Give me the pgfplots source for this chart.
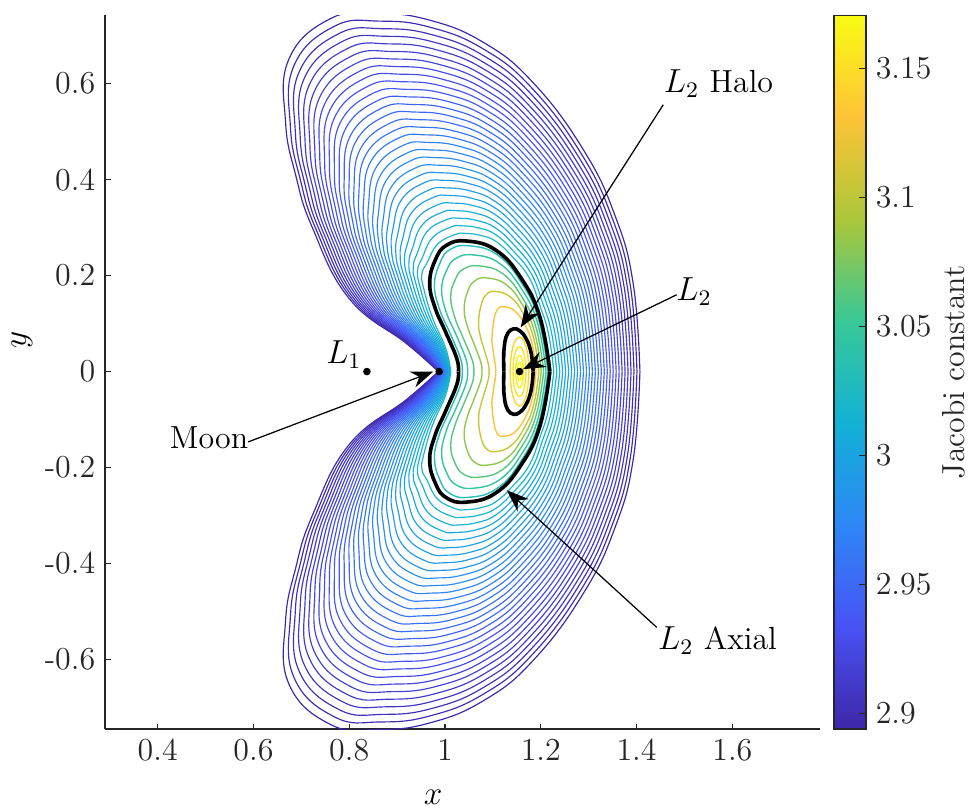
\documentclass[border=0pt]{standalone}
\usepackage{pgfplots}
\usepackage{pgfplotstable}
\pgfplotsset{compat=1.18}
\usetikzlibrary{arrows.meta}
\definecolor{p0}{rgb}{0.2422,0.1504,0.6603}
\definecolor{p1}{rgb}{0.2810,0.3228,0.9579}
\definecolor{p2}{rgb}{0.1786,0.5289,0.9682}
\definecolor{p3}{rgb}{0.0689,0.6948,0.8394}
\definecolor{p4}{rgb}{0.2161,0.7843,0.5923}
\definecolor{p5}{rgb}{0.6720,0.7793,0.2227}
\definecolor{p6}{rgb}{0.9970,0.7659,0.2199}
\definecolor{p7}{rgb}{0.9769,0.9839,0.0805}
\pgfplotsset{colormap={parula}{rgb=(0.2422,0.1504,0.6603) rgb=(0.2810,0.3228,0.9579) rgb=(0.1786,0.5289,0.9682) rgb=(0.0689,0.6948,0.8394) rgb=(0.2161,0.7843,0.5923) rgb=(0.6720,0.7793,0.2227) rgb=(0.9970,0.7659,0.2199) rgb=(0.9769,0.9839,0.0805)}}
\pgfplotsset{
  oc/.style={smooth, tension=0.75, line width=0.42pt, draw={#1}},
  icol/.style={smooth, tension=0.75, line width=0.5pt, draw={#1}},
  thick contour/.style={smooth, tension=0.75, line width=1.3pt, black},
}
\tikzset{arr/.style={line width=0.45pt, black, -{Stealth[length=8pt,width=6pt,inset=2.6pt]}}}

% upper halves of the outer contour family (rows: points along each curve; column pairs: contours)
\pgfplotstableread{
x0 y0 x1 y1 x2 y2 x3 y3 x4 y4 x5 y5 x6 y6 x7 y7 x8 y8 x9 y9 x10 y10 x11 y11 x12 y12 x13 y13 x14 y14 x15 y15 x16 y16 x17 y17 x18 y18 x19 y19 x20 y20 x21 y21 x22 y22 x23 y23 x24 y24 x25 y25 x26 y26 x27 y27 x28 y28 x29 y29
0.9860 0 0.9869 0 0.9878 0 0.9887 0 0.9896 0 0.9905 0 0.9914 0 0.9923 0 0.9932 0 0.9941 0 0.9950 0 0.9959 0 0.9968 0 0.9977 0 0.9986 0 0.9995 0 1.0004 0 1.0013 0 1.0022 0 1.0031 0 1.0040 0 1.0049 0 1.0058 0 1.0067 0 1.0076 0 1.0085 0 1.0094 0 1.0103 0 1.0112 0 1.0121 0
0.9200 0.0580 0.9228 0.0577 0.9256 0.0574 0.9284 0.0571 0.9312 0.0568 0.9340 0.0565 0.9368 0.0562 0.9396 0.0559 0.9424 0.0556 0.9452 0.0553 0.9480 0.0550 0.9508 0.0547 0.9536 0.0544 0.9564 0.0541 0.9592 0.0538 0.9620 0.0535 0.9648 0.0532 0.9676 0.0529 0.9704 0.0526 0.9732 0.0523 0.9760 0.0520 0.9788 0.0517 0.9816 0.0514 0.9844 0.0511 0.9872 0.0508 0.9900 0.0505 0.9928 0.0502 0.9956 0.0499 0.9984 0.0496 1.0012 0.0493
0.8000 0.1520 0.8060 0.1506 0.8120 0.1492 0.8180 0.1478 0.8240 0.1464 0.8300 0.1450 0.8360 0.1436 0.8420 0.1422 0.8480 0.1408 0.8540 0.1394 0.8600 0.1380 0.8660 0.1366 0.8720 0.1352 0.8780 0.1338 0.8840 0.1324 0.8900 0.1310 0.8960 0.1296 0.9020 0.1282 0.9080 0.1268 0.9140 0.1254 0.9200 0.1240 0.9260 0.1226 0.9320 0.1212 0.9380 0.1198 0.9440 0.1184 0.9500 0.1170 0.9560 0.1156 0.9620 0.1142 0.9680 0.1128 0.9740 0.1114
0.7230 0.3000 0.7310 0.2957 0.7390 0.2914 0.7470 0.2871 0.7550 0.2828 0.7630 0.2785 0.7710 0.2742 0.7790 0.2699 0.7870 0.2656 0.7950 0.2613 0.8030 0.2570 0.8110 0.2527 0.8190 0.2484 0.8270 0.2441 0.8350 0.2398 0.8430 0.2355 0.8510 0.2312 0.8590 0.2269 0.8670 0.2226 0.8750 0.2183 0.8830 0.2140 0.8910 0.2097 0.8990 0.2054 0.9070 0.2011 0.9150 0.1968 0.9230 0.1925 0.9310 0.1882 0.9390 0.1839 0.9470 0.1796 0.9550 0.1753
0.6880 0.4100 0.6971 0.4029 0.7062 0.3958 0.7153 0.3887 0.7244 0.3816 0.7335 0.3745 0.7426 0.3674 0.7517 0.3603 0.7608 0.3532 0.7699 0.3461 0.7790 0.3390 0.7881 0.3319 0.7972 0.3248 0.8063 0.3177 0.8154 0.3106 0.8245 0.3035 0.8336 0.2964 0.8427 0.2893 0.8518 0.2822 0.8609 0.2751 0.8700 0.2680 0.8791 0.2609 0.8882 0.2538 0.8973 0.2467 0.9064 0.2396 0.9155 0.2325 0.9246 0.2254 0.9337 0.2183 0.9428 0.2112 0.9519 0.2041
0.6670 0.5200 0.6772 0.5099 0.6874 0.4998 0.6976 0.4897 0.7078 0.4796 0.7180 0.4695 0.7282 0.4594 0.7384 0.4493 0.7486 0.4392 0.7588 0.4291 0.7690 0.4190 0.7792 0.4089 0.7894 0.3988 0.7996 0.3887 0.8098 0.3786 0.8200 0.3685 0.8302 0.3584 0.8404 0.3483 0.8506 0.3382 0.8608 0.3281 0.8710 0.3180 0.8812 0.3079 0.8914 0.2978 0.9016 0.2877 0.9118 0.2776 0.9220 0.2675 0.9322 0.2574 0.9424 0.2473 0.9526 0.2372 0.9628 0.2271
0.6740 0.6510 0.6847 0.6377 0.6954 0.6244 0.7061 0.6111 0.7168 0.5978 0.7275 0.5845 0.7382 0.5712 0.7489 0.5579 0.7596 0.5446 0.7703 0.5313 0.7810 0.5180 0.7917 0.5047 0.8024 0.4914 0.8131 0.4781 0.8238 0.4648 0.8345 0.4515 0.8452 0.4382 0.8559 0.4249 0.8666 0.4116 0.8773 0.3983 0.8880 0.3850 0.8987 0.3717 0.9094 0.3584 0.9201 0.3451 0.9308 0.3318 0.9415 0.3185 0.9522 0.3052 0.9629 0.2919 0.9736 0.2786 0.9843 0.2653
0.7600 0.7350 0.7690 0.7195 0.7780 0.7040 0.7870 0.6885 0.7960 0.6730 0.8050 0.6575 0.8140 0.6420 0.8230 0.6265 0.8320 0.6110 0.8410 0.5955 0.8500 0.5800 0.8590 0.5645 0.8680 0.5490 0.8770 0.5335 0.8860 0.5180 0.8950 0.5025 0.9040 0.4870 0.9130 0.4715 0.9220 0.4560 0.9310 0.4405 0.9400 0.4250 0.9490 0.4095 0.9580 0.3940 0.9670 0.3785 0.9760 0.3630 0.9850 0.3475 0.9940 0.3320 1.0030 0.3165 1.0120 0.3010 1.0210 0.2855
0.8580 0.7460 0.8644 0.7302 0.8708 0.7144 0.8772 0.6986 0.8836 0.6828 0.8900 0.6670 0.8964 0.6512 0.9028 0.6354 0.9092 0.6196 0.9156 0.6038 0.9220 0.5880 0.9284 0.5722 0.9348 0.5564 0.9412 0.5406 0.9476 0.5248 0.9540 0.5090 0.9604 0.4932 0.9668 0.4774 0.9732 0.4616 0.9796 0.4458 0.9860 0.4300 0.9924 0.4142 0.9988 0.3984 1.0052 0.3826 1.0116 0.3668 1.0180 0.3510 1.0244 0.3352 1.0308 0.3194 1.0372 0.3036 1.0436 0.2878
0.9650 0.7330 0.9688 0.7175 0.9726 0.7020 0.9764 0.6865 0.9802 0.6710 0.9840 0.6555 0.9878 0.6400 0.9916 0.6245 0.9954 0.6090 0.9992 0.5935 1.0030 0.5780 1.0068 0.5625 1.0106 0.5470 1.0144 0.5315 1.0182 0.5160 1.0220 0.5005 1.0258 0.4850 1.0296 0.4695 1.0334 0.4540 1.0372 0.4385 1.0410 0.4230 1.0448 0.4075 1.0486 0.3920 1.0524 0.3765 1.0562 0.3610 1.0600 0.3455 1.0638 0.3300 1.0676 0.3145 1.0714 0.2990 1.0752 0.2835
1.0800 0.6860 1.0809 0.6717 1.0818 0.6574 1.0827 0.6431 1.0836 0.6288 1.0845 0.6145 1.0854 0.6002 1.0863 0.5859 1.0872 0.5716 1.0881 0.5573 1.0890 0.5430 1.0899 0.5287 1.0908 0.5144 1.0917 0.5001 1.0926 0.4858 1.0935 0.4715 1.0944 0.4572 1.0953 0.4429 1.0962 0.4286 1.0971 0.4143 1.0980 0.4000 1.0989 0.3857 1.0998 0.3714 1.1007 0.3571 1.1016 0.3428 1.1025 0.3285 1.1034 0.3142 1.1043 0.2999 1.1052 0.2856 1.1061 0.2713
1.1840 0.6020 1.1825 0.5895 1.1810 0.5770 1.1795 0.5645 1.1780 0.5520 1.1765 0.5395 1.1750 0.5270 1.1735 0.5145 1.1720 0.5020 1.1705 0.4895 1.1690 0.4770 1.1675 0.4645 1.1660 0.4520 1.1645 0.4395 1.1630 0.4270 1.1615 0.4145 1.1600 0.4020 1.1585 0.3895 1.1570 0.3770 1.1555 0.3645 1.1540 0.3520 1.1525 0.3395 1.1510 0.3270 1.1495 0.3145 1.1480 0.3020 1.1465 0.2895 1.1450 0.2770 1.1435 0.2645 1.1420 0.2520 1.1405 0.2395
1.2890 0.4620 1.2851 0.4528 1.2812 0.4436 1.2773 0.4344 1.2734 0.4252 1.2695 0.4160 1.2656 0.4068 1.2617 0.3976 1.2578 0.3884 1.2539 0.3792 1.2500 0.3700 1.2461 0.3608 1.2422 0.3516 1.2383 0.3424 1.2344 0.3332 1.2305 0.3240 1.2266 0.3148 1.2227 0.3056 1.2188 0.2964 1.2149 0.2872 1.2110 0.2780 1.2071 0.2688 1.2032 0.2596 1.1993 0.2504 1.1954 0.2412 1.1915 0.2320 1.1876 0.2228 1.1837 0.2136 1.1798 0.2044 1.1759 0.1952
1.3550 0.3250 1.3496 0.3185 1.3442 0.3120 1.3388 0.3055 1.3334 0.2990 1.3280 0.2925 1.3226 0.2860 1.3172 0.2795 1.3118 0.2730 1.3064 0.2665 1.3010 0.2600 1.2956 0.2535 1.2902 0.2470 1.2848 0.2405 1.2794 0.2340 1.2740 0.2275 1.2686 0.2210 1.2632 0.2145 1.2578 0.2080 1.2524 0.2015 1.2470 0.1950 1.2416 0.1885 1.2362 0.1820 1.2308 0.1755 1.2254 0.1690 1.2200 0.1625 1.2146 0.1560 1.2092 0.1495 1.2038 0.1430 1.1984 0.1365
1.3930 0.1830 1.3869 0.1794 1.3808 0.1758 1.3747 0.1722 1.3686 0.1686 1.3625 0.1650 1.3564 0.1614 1.3503 0.1578 1.3442 0.1542 1.3381 0.1506 1.3320 0.1470 1.3259 0.1434 1.3198 0.1398 1.3137 0.1362 1.3076 0.1326 1.3015 0.1290 1.2954 0.1254 1.2893 0.1218 1.2832 0.1182 1.2771 0.1146 1.2710 0.1110 1.2649 0.1074 1.2588 0.1038 1.2527 0.1002 1.2466 0.0966 1.2405 0.0930 1.2344 0.0894 1.2283 0.0858 1.2222 0.0822 1.2161 0.0786
1.4070 0 1.4008 0 1.3946 0 1.3884 0 1.3822 0 1.3760 0 1.3698 0 1.3636 0 1.3574 0 1.3512 0 1.3450 0 1.3388 0 1.3326 0 1.3264 0 1.3202 0 1.3140 0 1.3078 0 1.3016 0 1.2954 0 1.2892 0 1.2830 0 1.2768 0 1.2706 0 1.2644 0 1.2582 0 1.2520 0 1.2458 0 1.2396 0 1.2334 0 1.2272 0
}\outer

% upper halves of the inner contours: axial (a), c1..c6, halo (h), e1..e4
\pgfplotstableread{
ax ay c1x c1y c2x c2y c3x c3y c4x c4y c5x c5y c6x c6y hx hy e1x e1y e2x e2y e3x e3y e4x e4y
1.028 0 1.036 0 1.047 0 1.060 0 1.077 0 1.092 0 1.106 0 1.123 0 1.1360 0 1.1420 0 1.1475 0 1.1510 0
1.0244 0.0278 1.0325 0.027 1.0438 0.0255 1.0571 0.0233 1.0748 0.0195 1.0907 0.015 1.1055 0.0105 1.1225 0.020 1.1370 0.0222 1.1427 0.0161 1.1479 0.0105 1.1512 0.0059
1.001 0.083 1.010 0.081 1.023 0.077 1.038 0.070 1.060 0.059 1.082 0.045 1.102 0.032 1.1228 0.042 1.1397 0.0423 1.1446 0.0306 1.1490 0.0200 1.1519 0.0112
0.9788 0.1341 0.9884 0.1305 1.0027 0.1233 1.0206 0.1124 1.0467 0.0943 1.0740 0.0725 1.0994 0.0508 1.1238 0.052 1.1417 0.0509 1.1460 0.0368 1.1498 0.0240 1.1523 0.0134
0.968 0.185 0.978 0.180 0.993 0.170 1.012 0.155 1.040 0.130 1.070 0.100 1.098 0.070 1.125 0.062 1.1440 0.0582 1.1476 0.0421 1.1508 0.0275 1.1529 0.0154
0.980 0.233 0.989 0.225 1.003 0.210 1.021 0.191 1.047 0.166 1.075 0.137 1.102 0.106 1.131 0.080 1.1495 0.0685 1.1513 0.0495 1.1530 0.0323 1.1541 0.0181
1.003 0.263 1.010 0.254 1.023 0.236 1.039 0.214 1.062 0.189 1.086 0.160 1.109 0.129 1.143 0.089 1.1555 0.0720 1.1555 0.0520 1.1555 0.0340 1.1555 0.0190
1.045 0.272 1.050 0.262 1.060 0.243 1.072 0.220 1.088 0.195 1.105 0.167 1.123 0.135 1.156 0.085 1.1615 0.0685 1.1597 0.0495 1.1580 0.0323 1.1569 0.0181
1.106 0.253 1.108 0.244 1.113 0.226 1.119 0.205 1.128 0.181 1.137 0.155 1.146 0.126 1.168 0.071 1.1670 0.0582 1.1634 0.0421 1.1602 0.0275 1.1581 0.0154
1.158 0.196 1.157 0.189 1.158 0.175 1.159 0.158 1.161 0.140 1.164 0.120 1.167 0.097 1.177 0.050 1.1713 0.0423 1.1664 0.0306 1.1620 0.0200 1.1591 0.0112
1.198 0.114 1.195 0.110 1.193 0.102 1.190 0.092 1.187 0.082 1.185 0.070 1.182 0.057 1.182 0.025 1.1740 0.0222 1.1683 0.0161 1.1631 0.0105 1.1598 0.0059
1.219 0 1.215 0 1.211 0 1.206 0 1.201 0 1.196 0 1.190 0 1.184 0 1.1750 0 1.1690 0 1.1635 0 1.1600 0
}\inner

\newcommand\oc[2]{%
  \addplot[oc={#2}] table[x=x#1,y=y#1]{\outer};
  \addplot[oc={#2}] table[x=x#1,y expr=-\thisrow{y#1}]{\outer};}
\newcommand\ic[2]{%
  \addplot[#2] table[x=#1x,y=#1y]{\inner};
  \addplot[#2] table[x=#1x,y expr=-\thisrow{#1y}]{\inner};}

\begin{document}
\begin{tikzpicture}
\begin{axis}[
  name=main,
  scale only axis,
  width=257.4pt, height=256.9pt,
  xmin=0.29, xmax=1.783, ymin=-0.745, ymax=0.742,
  axis x line*=bottom, axis y line*=left,
  axis line style={line width=0.5pt, black!85},
  tick align=inside,
  major tick length=2pt,
  tick style={line width=0.5pt, black!85},
  xtick={0.4,0.6,0.8,1,1.2,1.4,1.6},
  xticklabels={0.4,0.6,0.8,1,1.2,1.4,1.6},
  ytick={-0.6,-0.4,-0.2,0,0.2,0.4,0.6},
  yticklabels={-0.6,-0.4,-0.2,0,0.2,0.4,0.6},
  tick label style={font=\fontsize{11.5}{14}\selectfont, text=black!85},
  xlabel={$x$}, ylabel={$y$},
  label style={font=\fontsize{12.5}{15}\selectfont},
  xlabel style={at={(axis description cs:0.459,-0.0953)}, anchor=center},
  ylabel style={at={(axis description cs:-0.116,0.545)}, anchor=center},
  colormap name=parula,
  colorbar,
  point meta min=2.894, point meta max=3.1706,
  colorbar style={
    at={(parent axis.north east)}, anchor=north west, xshift=-3.5pt,
    scale only axis, width=11.52pt, height=256.9pt,
    ytick={2.9,2.95,3,3.05,3.1,3.15},
    yticklabels={2.9,2.95,3,3.05,3.1,3.15},
    ytick pos=right, yticklabel pos=right,
    tick align=inside, major tick length=2.5pt,
    tick style={line width=0.5pt, black!85},
    axis line style={line width=0.5pt, black!85},
    tick label style={font=\fontsize{11.5}{14}\selectfont, text=black!85},
    ylabel={Jacobi constant},
    ylabel style={at={(axis description cs:3.75,0.5)}, anchor=center, font=\fontsize{11.5}{14}\selectfont, text=black!85},
  },
]
\oc{0}{p0}\oc{1}{p1!11!p0}\oc{2}{p1!22!p0}\oc{3}{p1!33!p0}\oc{4}{p1!44!p0}
\oc{5}{p1!55!p0}\oc{6}{p1!66!p0}\oc{7}{p1!77!p0}\oc{8}{p1!88!p0}\oc{9}{p1!99!p0}
\oc{10}{p2!10!p1}\oc{11}{p2!21!p1}\oc{12}{p2!32!p1}\oc{13}{p2!43!p1}\oc{14}{p2!54!p1}
\oc{15}{p2!65!p1}\oc{16}{p2!76!p1}\oc{17}{p2!87!p1}\oc{18}{p2!98!p1}\oc{19}{p3!9!p2}
\oc{20}{p3!20!p2}\oc{21}{p3!31!p2}\oc{22}{p3!42!p2}\oc{23}{p3!53!p2}\oc{24}{p3!64!p2}
\oc{25}{p3!75!p2}\oc{26}{p3!86!p2}\oc{27}{p3!97!p2}\oc{28}{p4!8!p3}\oc{29}{p4!19!p3}

\ic{c1}{icol={p4!50!p3}}\ic{c2}{icol={p4!85!p3}}\ic{c3}{icol={p5!27!p4}}
\ic{c4}{icol={p5!76!p4}}\ic{c5}{icol={p6!32!p5}}\ic{c6}{icol={p6!95!p5}}
\ic{e1}{icol={p7!34!p6}}\ic{e2}{icol={p7!58!p6}}\ic{e3}{icol={p7!79!p6}}\ic{e4}{icol={p7}}
\ic{a}{thick contour}
\ic{h}{thick contour}

\addplot[only marks, mark=*, mark size=1.15pt, black] coordinates {(0.8369,0) (0.9878,0) (1.1557,0)};

\draw[arr] (axis cs:0.589,-0.1466) -- (axis cs:0.9756,0);
\draw[arr] (axis cs:1.4557,0.556) -- (axis cs:1.158,0.092);
\draw[arr] (axis cs:1.4837,0.160) -- (axis cs:1.163,0.005);
\draw[arr] (axis cs:1.442,-0.533) -- (axis cs:1.129,-0.2474);

\node[font=\fontsize{11.5}{14}\selectfont] at (axis cs:0.5073,-0.1378) {Moon};
\node[font=\fontsize{11.5}{14}\selectfont] at (axis cs:1.571,0.601) {$L_2$ Halo};
\node[font=\fontsize{11.5}{14}\selectfont] at (axis cs:1.520,0.167) {$L_2$};
\node[font=\fontsize{11.5}{14}\selectfont] at (axis cs:1.569,-0.5605) {$L_2$ Axial};
\node[font=\fontsize{11.5}{14}\selectfont] at (axis cs:0.789,0.0345) {$L_1$};
\end{axis}
\pgfresetboundingbox
\path[use as bounding box] ([xshift=-37.8pt,yshift=-29.16pt]main.south west) rectangle ([xshift=53.64pt,yshift=5.58pt]main.north east);
\end{tikzpicture}
\end{document}
